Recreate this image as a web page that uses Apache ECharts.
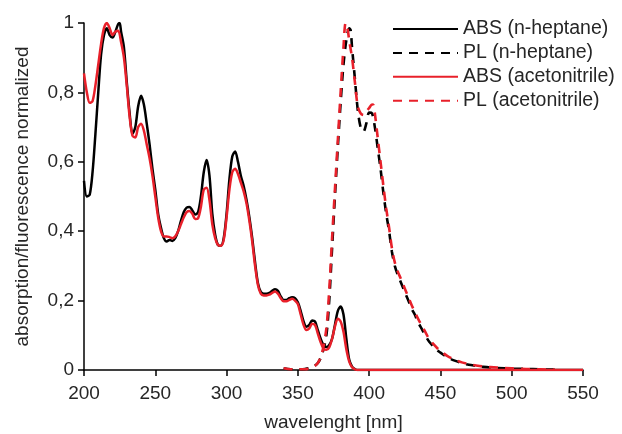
<!DOCTYPE html>
<html>
<head>
<meta charset="utf-8">
<script src="https://cdn.jsdelivr.net/npm/echarts@6/dist/echarts.min.js"></script>
<style>html,body{margin:0;padding:0;background:#fff}#c{width:622px;height:434px}</style>
</head>
<body>
<div id="c"></div>
<script>
// ABS (n-heptane)
var absHepX = [200,202,204,206,208,210,212,214,216,218,220,222,224,225,226,228,230,232,234,236,238,240,242,244,246,248,250,252,254,256,258,260,262,264,266,268,270,272,274,276,278,280,282,284,286,288,290,292,294,296,298,300,302,304,306,308,310,312,314,316,318,320,322,324,326,328,330,332,334,336,338,340,342,344,346,348,350,352,354,356,358,360,362,364,366,368,370,372,374,376,378,380,382,384,386,388,390,392,400,450,500,550];
var absHepY = [0.545,0.50,0.505,0.57,0.68,0.80,0.91,0.965,0.985,0.965,0.958,0.975,0.997,1.0,0.975,0.93,0.83,0.74,0.68,0.70,0.76,0.79,0.765,0.71,0.65,0.58,0.52,0.45,0.41,0.38,0.37,0.375,0.372,0.38,0.40,0.43,0.455,0.468,0.47,0.46,0.448,0.455,0.50,0.57,0.605,0.56,0.45,0.39,0.36,0.358,0.38,0.45,0.55,0.615,0.63,0.60,0.56,0.53,0.49,0.44,0.38,0.31,0.25,0.225,0.22,0.22,0.222,0.228,0.233,0.228,0.212,0.202,0.202,0.207,0.21,0.207,0.195,0.17,0.14,0.125,0.13,0.143,0.14,0.115,0.09,0.072,0.066,0.072,0.09,0.13,0.17,0.183,0.16,0.09,0.03,0.01,0.003,0,0,0,0,0];
// PL (n-heptane)
var plHepX = [340,345,350,355,360,364,367,370,372,374,376,378,380,382,384,386,387,388,390,392,394,396,398,400,402,404,406,408,410,412,414,416,418,420,422,424,426,428,430,432,434,436,438,440,442,445,448,450,455,460,465,470,475,480,490,500,510,520,530];
var plHepY = [0.005,0.002,0.002,0.003,0.008,0.02,0.045,0.10,0.2,0.35,0.5,0.64,0.77,0.88,0.95,0.985,0.98,0.93,0.84,0.75,0.70,0.687,0.71,0.742,0.74,0.70,0.64,0.58,0.51,0.45,0.40,0.34,0.30,0.275,0.255,0.235,0.215,0.195,0.175,0.16,0.14,0.125,0.11,0.095,0.082,0.068,0.056,0.05,0.036,0.027,0.02,0.015,0.012,0.009,0.006,0.004,0.003,0.002,0.001];
// ABS (acetonitrile)
var absAcnX = [200,202,204,206,208,210,212,214,216,218,220,222,224,226,228,230,232,234,236,238,240,242,244,246,248,250,252,254,256,258,260,262,264,266,268,270,272,274,276,278,280,282,284,286,288,290,292,294,296,298,300,302,304,306,308,310,312,314,316,318,320,322,324,326,328,330,332,334,336,338,340,342,344,346,348,350,352,354,356,358,360,362,364,366,368,370,372,374,376,378,380,382,384,386,388,390,392,400,450,500,550];
var absAcnY = [0.855,0.80,0.77,0.775,0.82,0.88,0.94,0.985,1.0,0.985,0.965,0.975,0.978,0.945,0.90,0.82,0.73,0.675,0.67,0.70,0.71,0.69,0.65,0.61,0.56,0.50,0.44,0.40,0.385,0.385,0.383,0.38,0.385,0.40,0.42,0.44,0.455,0.458,0.45,0.435,0.437,0.47,0.52,0.525,0.49,0.42,0.38,0.36,0.358,0.375,0.44,0.52,0.57,0.58,0.565,0.54,0.515,0.48,0.43,0.37,0.30,0.245,0.22,0.215,0.215,0.217,0.222,0.226,0.22,0.207,0.198,0.198,0.202,0.205,0.20,0.19,0.16,0.13,0.115,0.12,0.133,0.13,0.105,0.08,0.062,0.058,0.065,0.09,0.125,0.148,0.14,0.11,0.06,0.025,0.008,0.002,0,0,0,0,0];
// PL (acetonitrile)
var plAcnX = [340,345,350,355,360,364,367,370,372,374,376,378,380,382,383.5,385,386,388,390,392,394,396,398,400,402,403,404,406,408,410,412,414,416,418,420,422,424,426,428,430,432,434,436,438,440,442,445,448,450,455,460,465,470,475,480,490,500,510,520,530];
var plAcnY = [0.005,0.002,0.002,0.002,0.007,0.02,0.05,0.12,0.23,0.38,0.52,0.66,0.80,0.93,1.0,0.98,0.95,0.90,0.83,0.76,0.74,0.735,0.745,0.755,0.765,0.764,0.74,0.67,0.60,0.53,0.465,0.41,0.35,0.31,0.285,0.265,0.245,0.225,0.205,0.185,0.168,0.15,0.135,0.12,0.105,0.09,0.075,0.062,0.055,0.04,0.03,0.022,0.017,0.013,0.01,0.007,0.005,0.003,0.002,0.001];

var seriesNames = ['ABS (n-heptane)','PL (n-heptane)','ABS (acetonitrile)','PL (acetonitrile)'];
var xTicks = [200,250,300,350,400,450,500,550];
var yTicks = ['0','0,2','0,4','0,6','0,8','1'];

function pairs(xs, ys){ return xs.map(function(x,i){ return [x, ys[i]]; }); }

var FONT = '"Liberation Sans", Arial, sans-serif';
var TXT = '#262626';
var RED = '#e8202a';
var chart = echarts.init(document.getElementById('c'), null, {renderer:'canvas'});
chart.setOption({
  animation:false,
  backgroundColor:'#fff',
  textStyle:{fontFamily:FONT},
  grid:{left:84, right:39, top:23, bottom:64, containLabel:false, outerBoundsMode:'none'},
  legend:{
    orient:'vertical', left:392, top:19, padding:0,
    itemWidth:65, itemHeight:20, itemGap:3.9,
    itemStyle:{opacity:0},
    textStyle:{fontFamily:FONT, fontSize:19.5, color:TXT},
    data:seriesNames
  },
  xAxis:{
    type:'value', min:200, max:550, interval:50,
    name:'wavelenght [nm]', nameLocation:'middle', nameGap:43,
    nameTextStyle:{fontFamily:FONT, fontSize:19, color:TXT},
    axisLine:{lineStyle:{color:'#000', width:1.5}},
    axisTick:{show:true, inside:false, length:6, lineStyle:{color:'#000', width:1.5}},
    axisLabel:{fontFamily:FONT, fontSize:19, color:TXT, margin:14,
      formatter:function(v){ var i = xTicks.indexOf(v); return i>=0 ? String(xTicks[i]) : ''; }},
    splitLine:{show:false}
  },
  yAxis:{
    type:'value', min:0, max:1, interval:0.2,
    name:'absorption/fluorescence normalized', nameLocation:'middle', nameGap:52,
    nameTextStyle:{fontFamily:FONT, fontSize:19, color:TXT},
    axisLine:{show:true, lineStyle:{color:'#000', width:1.5}},
    axisTick:{show:true, inside:false, length:6, lineStyle:{color:'#000', width:1.5}},
    axisLabel:{fontFamily:FONT, fontSize:19, color:TXT, margin:10,
      formatter:function(v){ var i = Math.round(v/0.2); return yTicks[i]; }},
    splitLine:{show:false}
  },
  series:[
    {name:seriesNames[0], type:'line', data:pairs(absHepX, absHepY), symbol:'none', smooth:0.3,
     color:'#000', lineStyle:{color:'#000', width:2.5}, z:2},
    {name:seriesNames[1], type:'line', data:pairs(plHepX, plHepY), symbol:'none', smooth:0.3,
     color:'#000', lineStyle:{color:'#000', width:2.6, type:[9,7]}, z:3},
    {name:seriesNames[2], type:'line', data:pairs(absAcnX, absAcnY), symbol:'none', smooth:0.3,
     color:RED, lineStyle:{color:RED, width:2.5}, z:4},
    {name:seriesNames[3], type:'line', data:pairs(plAcnX, plAcnY), symbol:'none', smooth:0.3,
     color:RED, lineStyle:{color:RED, width:2.6, type:[9,7]}, z:5}
  ]
});
</script>
</body>
</html>
